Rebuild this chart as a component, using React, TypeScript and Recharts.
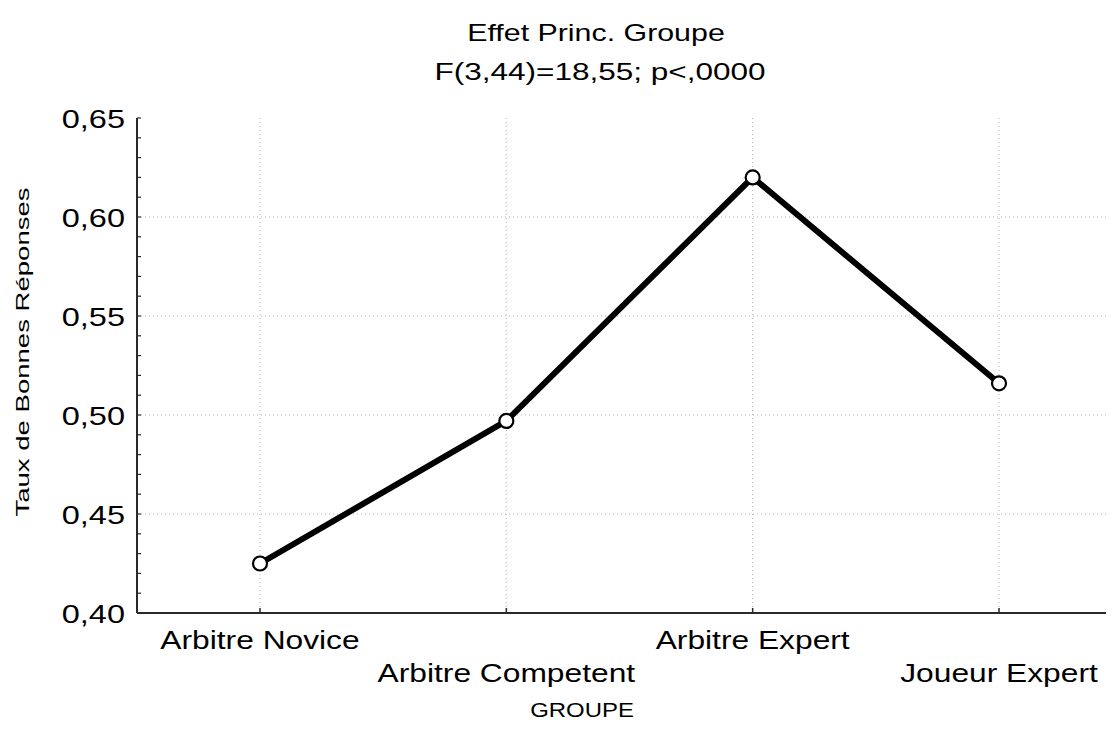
import { CartesianGrid, Line, LineChart, ReferenceLine, XAxis, YAxis } from "recharts";

const GROUPS = ["Arbitre Novice", "Arbitre Competent", "Arbitre Expert", "Joueur Expert"];
const TAUX = [0.425, 0.497, 0.62, 0.516];
const MAJOR_TICKS = [0.4, 0.45, 0.5, 0.55, 0.6, 0.65];
const GRID_TICKS = [0.45, 0.5, 0.55, 0.6];

const TITLE = "Effet Princ. Groupe";
const SUBTITLE = "F(3,44)=18,55; p<,0000";
const X_LABEL = "GROUPE";
const Y_LABEL = "Taux de Bonnes Réponses";

// minor ticks every 0,01 on the value axis
const ALL_TICKS = Array.from({ length: 26 }, (_, i) => Math.round(40 + i) / 100);

const data = GROUPS.map((g, i) => ({ group: g, value: TAUX[i] }));

const FONT = "'Liberation Sans', Arial, sans-serif";
const AXIS = "#2a2a2a";
const GRID = "#b4b4b4";

function CategoryTick(props: any) {
  const { x, y, payload } = props;
  const idx = GROUPS.indexOf(payload.value);
  const dy = idx % 2 === 1 ? 69 : 36;
  return (
    <text
      transform={`translate(${x},${y + dy}) scale(1.27,1)`}
      textAnchor="middle"
      fontSize={25}
      fontFamily={FONT}
      fill="#000"
    >
      {payload.value}
    </text>
  );
}

function ValueTick(props: any) {
  const { x, y, payload } = props;
  const v = payload.value as number;
  if (!MAJOR_TICKS.some((m) => Math.abs(m - v) < 1e-6)) return <g />;
  return (
    <text
      transform={`translate(${x},${y + 9.5}) scale(1.25,1)`}
      textAnchor="end"
      fontSize={26}
      fontFamily={FONT}
      fill="#000"
    >
      {v.toFixed(2).replace(".", ",")}
    </text>
  );
}

export default function App() {
  return (
    <div style={{ position: "relative", width: 1114, height: 731, marginLeft: -8, marginTop: -8, background: "#fff" }}>
      <LineChart width={1114} height={731} data={data} margin={{ top: 118, right: 0, bottom: 0, left: 0 }}>
        <CartesianGrid horizontal={false} stroke={GRID} strokeDasharray="1 3" />
        {GRID_TICKS.map((t) => (
          <ReferenceLine key={t} y={t} stroke={GRID} strokeDasharray="1 3" />
        ))}
        <XAxis
          dataKey="group"
          height={118}
          interval={0}
          padding={{ left: 123, right: 115 }}
          tickSize={-5}
          tickMargin={5}
          stroke={AXIS}
          axisLine={{ stroke: AXIS, strokeWidth: 2 }}
          tickLine={{ stroke: AXIS, strokeWidth: 1.5 }}
          tick={<CategoryTick />}
        />
        <XAxis
          xAxisId="top"
          orientation="top"
          dataKey="group"
          height={0}
          interval={0}
          padding={{ left: 123, right: 115 }}
          tickSize={-5}
          axisLine={{ stroke: AXIS, strokeWidth: 2 }}
          tickLine={{ stroke: AXIS, strokeWidth: 1.5 }}
          tick={() => <g />}
        />
        <YAxis
          width={137}
          domain={[0.4, 0.65]}
          ticks={ALL_TICKS}
          interval={0}
          allowDataOverflow
          tickSize={-4}
          tickMargin={16}
          axisLine={{ stroke: AXIS, strokeWidth: 2 }}
          tickLine={{ stroke: AXIS, strokeWidth: 1.2 }}
          tick={<ValueTick />}
        />
        <Line
          type="linear"
          dataKey="value"
          stroke="#000"
          strokeWidth={6}
          dot={{ r: 7, fill: "#fff", stroke: "#000", strokeWidth: 2.2 }}
          activeDot={false}
          isAnimationActive={false}
        />
      </LineChart>
      <svg width={1114} height={731} style={{ position: "absolute", left: 0, top: 0, pointerEvents: "none" }}>
        <text transform="translate(596,41) scale(1.32,1)" textAnchor="middle" fontSize={23} fontFamily={FONT} fill="#000">
          {TITLE}
        </text>
        <text transform="translate(600,80) scale(1.37,1)" textAnchor="middle" fontSize={23} fontFamily={FONT} fill="#000">
          {SUBTITLE}
        </text>
        <text transform="translate(582,717) scale(1.14,1)" textAnchor="middle" fontSize={21} fontFamily={FONT} fill="#000">
          {X_LABEL}
        </text>
        <text transform="translate(29,352) rotate(-90) scale(1.45,1)" textAnchor="middle" fontSize={19} fontFamily={FONT} fill="#000">
          {Y_LABEL}
        </text>
      </svg>
    </div>
  );
}
